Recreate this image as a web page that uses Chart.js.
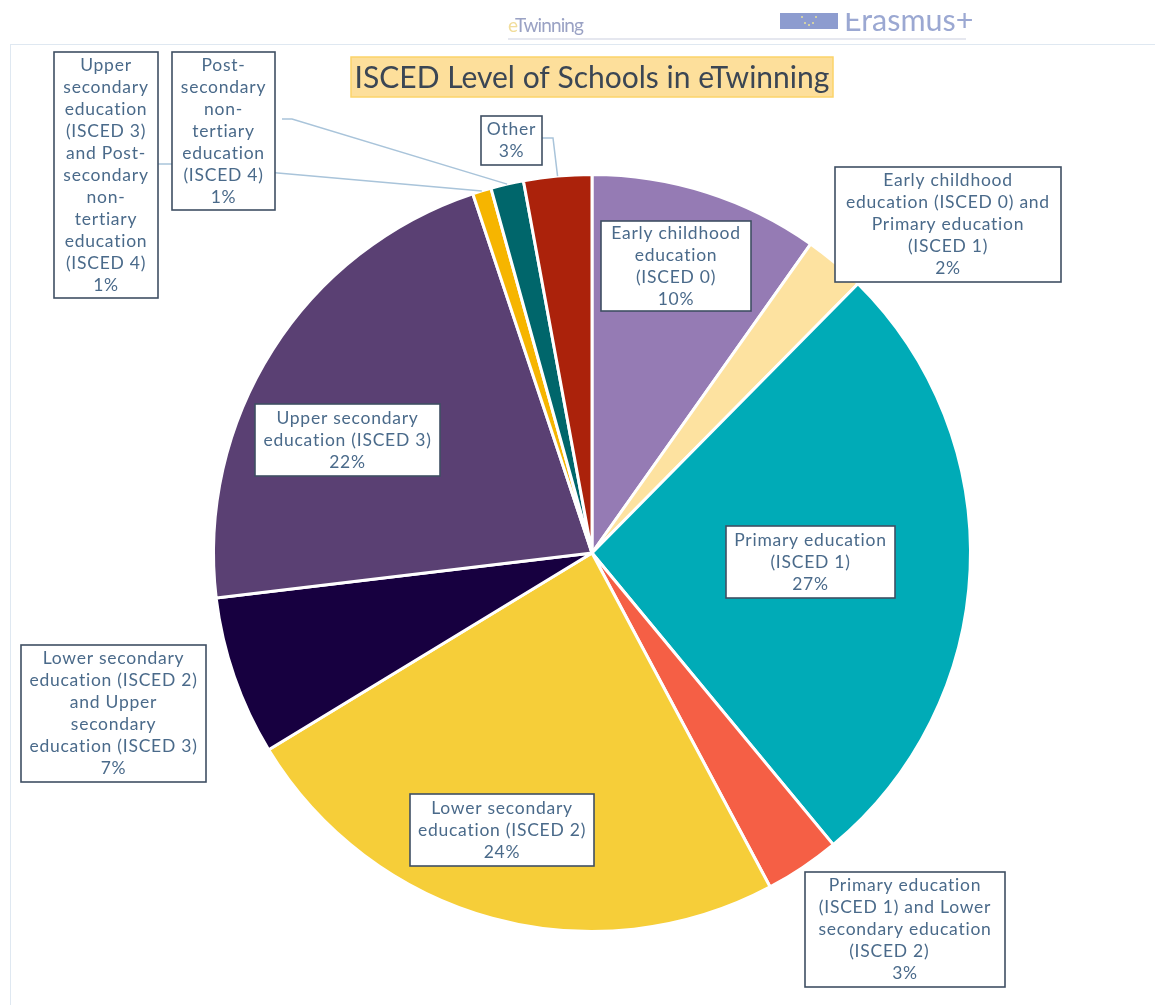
<!DOCTYPE html>
<html>
<head>
<meta charset="utf-8">
<title>ISCED Level of Schools in eTwinning</title>
<script src="https://cdn.jsdelivr.net/npm/chart.js@4"></script>
<style>
html,body{margin:0;padding:0;background:#fff;width:1155px;height:1005px;overflow:hidden;font-family:Lato,sans-serif}
#wrap{position:relative;width:1155px;height:1005px;overflow:hidden;filter:blur(.45px)}
#frame{position:absolute;left:10px;top:44px;width:1160px;height:1000px;border:1.5px solid #dfe8f1;box-sizing:border-box}
#rule{position:absolute;left:508px;top:38px;width:458px;height:2px;background:#e5e7ef}
#tw{position:absolute;left:508px;top:13px;font-size:19px;line-height:24px;color:#9aa2c4;letter-spacing:-.9px}
#tw b{color:#f1dd9b;font-weight:400}
#flag{position:absolute;left:780px;top:13px;width:58px;height:16px;background-color:#8d9ccf}
#flag i{position:absolute;width:2px;height:2px;background:#e8e29a;border-radius:50%}
#erasmus{position:absolute;left:844px;top:13px;width:135px;height:18px;overflow:hidden}
#erasmus span{position:absolute;left:0;top:-14px;font-size:30.5px;line-height:40px;color:#9ba8d2;white-space:nowrap}
canvas{position:absolute;left:0;top:0}
</style>
</head>
<body>
<div id="wrap">
<div id="frame"></div>
<div id="rule"></div>
<div id="tw"><b>e</b>Twinning</div>
<div id="flag"><i style="left:21px;top:3px"></i><i style="left:35px;top:3px"></i><i style="left:24px;top:9px"></i><i style="left:32px;top:9px"></i><i style="left:28px;top:11px"></i></div>
<div id="erasmus"><span>Erasmus+</span></div>
<canvas id="c" width="1155" height="1005"></canvas>
</div>
<script>
const chartTitle = "ISCED Level of Schools in eTwinning";
const categories = [
  "Early childhood education (ISCED 0)",
  "Early childhood education (ISCED 0) and Primary education (ISCED 1)",
  "Primary education (ISCED 1)",
  "Primary education (ISCED 1) and Lower secondary education (ISCED 2)",
  "Lower secondary education (ISCED 2)",
  "Lower secondary education (ISCED 2) and Upper secondary education (ISCED 3)",
  "Upper secondary education (ISCED 3)",
  "Upper secondary education (ISCED 3) and Post-secondary non-tertiary education (ISCED 4)",
  "Post-secondary non-tertiary education (ISCED 4)",
  "Other"
];
const shares = [9.8, 2.6, 26.6, 3.2, 24.1, 6.8, 21.8, 0.8, 1.4, 2.9];
const percentLabels = ["10%", "2%", "27%", "3%", "24%", "7%", "22%", "1%", "1%", "3%"];
const sliceColors = ["#957bb4", "#fde2a0", "#00abb7", "#f55f45", "#f6ce39", "#170040", "#5a4073", "#f6b500", "#00666b", "#ab220b"];
const labelLines = [
  ["Early childhood", "education", "(ISCED 0)"],
  ["Early childhood", "education (ISCED 0) and", "Primary education", "(ISCED 1)"],
  ["Primary education", "(ISCED 1)"],
  ["Primary education", "(ISCED 1) and Lower", "secondary education", "(ISCED 2)\u00a0\u00a0\u00a0\u00a0\u00a0\u00a0"],
  ["Lower secondary", "education (ISCED 2)"],
  ["Lower secondary", "education (ISCED 2)", "and Upper", "secondary", "education (ISCED 3)"],
  ["Upper secondary", "education (ISCED 3)"],
  ["Upper", "secondary", "education", "(ISCED 3)", "and Post-", "secondary", "non-", "tertiary", "education", "(ISCED 4)"],
  ["Post-", "secondary", "non-", "tertiary", "education", "(ISCED 4)"],
  ["Other"]
];

// Layout of the data-label boxes: [left, top, right, bottom]
const labelBoxes = [
  [601, 221, 751, 311], [835, 167, 1061, 282], [726, 526, 895, 598],
  [805, 872, 1005, 987], [410, 794, 594, 866], [21, 645, 206, 782],
  [255, 404, 440, 476], [54, 52, 158, 298], [172, 52, 275, 210], [481, 116, 542, 165]
];
// Leader-line runs that start at a box side; the end is read from the slice element
const leaders = {
  7: [[[158, 164], [172, 164]], [[275, 172.7]]],
  8: [[[282, 119], [292, 119]]],
  9: [[[542, 138], [553, 138]]]
};

const labelFont = '17.5px Lato, sans-serif';
const labelSpacing = '0.75px';
const lineGap = 22;

const dataLabelPlugin = {
  id: 'dataLabelBoxes',
  afterDatasetsDraw(chart) {
    const ctx = chart.ctx;
    const arcs = chart.getDatasetMeta(0).data;
    ctx.save();
    ctx.strokeStyle = '#a9c4da';
    ctx.lineWidth = 1.5;
    Object.keys(leaders).forEach(k => {
      const i = +k;
      const a = arcs[i];
      const mid = (a.startAngle + a.endAngle) / 2;
      const end = [a.x + Math.cos(mid) * a.outerRadius, a.y + Math.sin(mid) * a.outerRadius];
      const runs = leaders[k];
      runs.forEach((run, r) => {
        ctx.beginPath();
        ctx.moveTo(run[0][0], run[0][1]);
        run.slice(1).forEach(p => ctx.lineTo(p[0], p[1]));
        if (r === runs.length - 1) ctx.lineTo(end[0], end[1]);
        ctx.stroke();
      });
    });
    labelBoxes.forEach((b, i) => {
      ctx.fillStyle = '#ffffff';
      ctx.fillRect(b[0], b[1], b[2] - b[0], b[3] - b[1]);
      ctx.strokeStyle = '#3f4f63';
      ctx.lineWidth = 1.6;
      ctx.strokeRect(b[0], b[1], b[2] - b[0], b[3] - b[1]);
      const lines = labelLines[i].concat(percentLabels[i]);
      const cx = (b[0] + b[2]) / 2;
      const cy = (b[1] + b[3]) / 2;
      const y0 = cy - (lines.length - 1) * lineGap / 2;
      ctx.font = labelFont;
      ctx.letterSpacing = labelSpacing;
      ctx.fillStyle = '#4a6a8a';
      ctx.textAlign = 'center';
      ctx.textBaseline = 'middle';
      lines.forEach((t, j) => ctx.fillText(t, cx, y0 + j * lineGap));
    });
    ctx.restore();
  }
};

const titleBoxPlugin = {
  id: 'titleBox',
  beforeDraw(chart) {
    const ctx = chart.ctx;
    const cx = (chart.chartArea.left + chart.chartArea.right) / 2;
    ctx.save();
    ctx.fillStyle = '#fddf9b';
    ctx.strokeStyle = '#fbd46a';
    ctx.lineWidth = 1.5;
    ctx.fillRect(cx - 241, 57, 482, 40);
    ctx.strokeRect(cx - 241, 57, 482, 40);
    ctx.restore();
  }
};

new Chart(document.getElementById('c'), {
  type: 'pie',
  data: {
    labels: categories,
    datasets: [{
      data: shares,
      backgroundColor: sliceColors,
      borderColor: '#ffffff',
      borderWidth: 3
    }]
  },
  options: {
    responsive: false,
    animation: false,
    devicePixelRatio: 1,
    layout: { padding: { left: 212, right: 183, top: 57, bottom: 72 } },
    plugins: {
      legend: { display: false },
      tooltip: { enabled: false },
      title: {
        display: true,
        text: chartTitle,
        fullSize: false,
        color: '#3b4654',
        font: { family: 'Lato, sans-serif', size: 30, weight: 'normal', lineHeight: 1.2 },
        padding: { top: 3, bottom: 77 }
      }
    }
  },
  plugins: [titleBoxPlugin, dataLabelPlugin]
});
</script>
</body>
</html>
